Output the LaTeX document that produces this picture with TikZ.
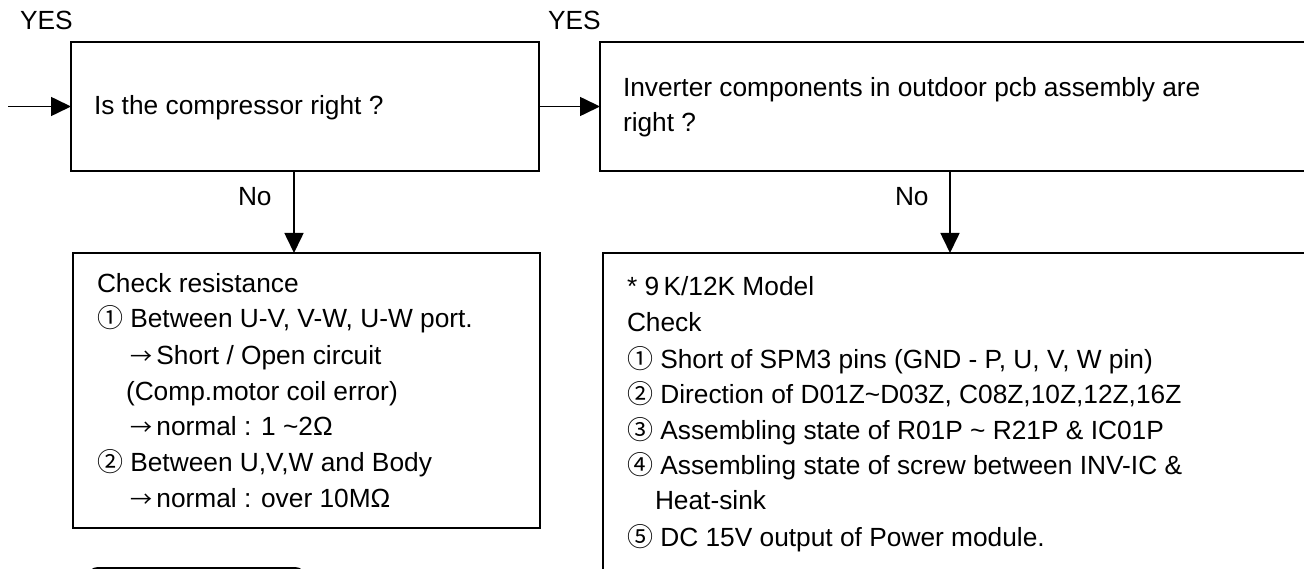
\documentclass[tikz,border=0pt]{standalone}
\usepackage{fontspec}
\setmainfont{Liberation Sans}
\newfontfamily\cjk{Noto Sans CJK SC}
\usetikzlibrary{arrows.meta}
\newcommand\cdig[1]{{\cjk\fontsize{26}{26}\selectfont #1}}
\newcommand\myarr{{\cjk\fontsize{22}{22}\selectfont →}}
\begin{document}
\begin{tikzpicture}[x=1pt,y=-1pt,
  box/.style={draw, line width=2.6pt, inner sep=0pt, outer sep=0pt, anchor=north west},
  txt/.style={inner sep=0pt, outer sep=0pt, anchor=base west, font=\fontsize{26.3}{32}\selectfont},
  arr/.style={line width=1.6pt, -{Triangle[length=20pt,width=19pt]}}]
\useasboundingbox (0,0) rectangle (1304,569);
\fill[white] (0,0) rectangle (1304,569);
\clip (0,0) rectangle (1304,569);

% boxes
\node[box, minimum width=468pt, minimum height=129pt] (b1) at (71,42) {};
\node[box, minimum width=760pt, minimum height=129pt] (b2) at (600,42) {};
\node[box, minimum width=467pt, minimum height=275pt] (b3) at (73,253) {};
\node[box, minimum width=760pt, minimum height=400pt] (b4) at (603,253) {};
\draw[line width=2pt, rounded corners=10pt] (88,600) -- (88,568) -- (305,568) -- (305,600);

% labels
\node[txt] (y1) at (20,30) {YES};
\node[txt] (y2) at (548,30) {YES};
\node[txt] (q1) at (94,115) {Is the compressor right ?};
\node[txt] (q2a) at (623,97) {Inverter components in outdoor pcb assembly are};
\node[txt] (q2b) at (623,132) {right ?};
\node[txt] (n1) at (238,206) {No};
\node[txt] (n2) at (895,206) {No};

% box 3 text
\node[txt] (l1) at (97,293) {Check resistance};
\node[txt] (l2) at (97,328) {\cdig{①} Between U-V, V-W, U-W port.};
\node[txt] (l3) at (130,364) {\myarr\,Short / Open circuit};
\node[txt] (l4) at (126,400) {(Comp.motor coil error)};
\node[txt] (l5) at (130,435) {\myarr\,normal : 1 \textasciitilde2Ω};
\node[txt] (l6) at (97,471) {\cdig{②} Between U,V,W and Body};
\node[txt] (l7) at (130,507) {\myarr\,normal : over 10MΩ};

% box 4 text
\node[txt] (r1) at (627,296) {* 9\,K/12K Model};
\node[txt] (r2) at (627,332) {Check};
\node[txt] (r3) at (627,368) {\cdig{①} Short of SPM3 pins (GND - P, U, V, W pin)};
\node[txt] (r4) at (627,403) {\cdig{②} Direction of D01Z\textasciitilde D03Z, C08Z,10Z,12Z,16Z};
\node[txt] (r5) at (627,439) {\cdig{③} Assembling state of R01P \textasciitilde{} R21P \& IC01P};
\node[txt] (r6) at (627,474) {\cdig{④} Assembling state of screw between INV-IC \&};
\node[txt] (r7) at (655,509) {Heat-sink};
\node[txt] (r8) at (627,546) {\cdig{⑤} DC 15V output of Power module.};

% connectors
\coordinate (in) at (8,106.5);
\coordinate (c1) at (294,0);
\coordinate (c2) at (950,0);
\draw[arr] (in) -- (b1.west);
\draw[arr] (b1.east) -- (b2.west);
\draw[arr] (b1.south -| c1) -- (b3.north -| c1);
\draw[arr] (b2.south -| c2) -- (b4.north -| c2);
\end{tikzpicture}
\end{document}
